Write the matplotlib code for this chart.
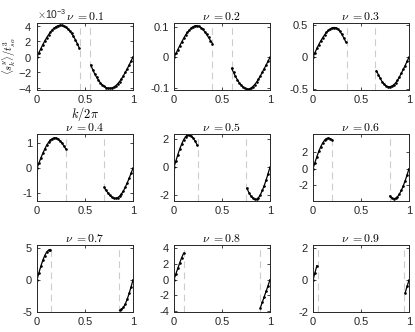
import matplotlib
matplotlib.use("Agg")
import matplotlib.pyplot as plt
import numpy as np
from matplotlib.ticker import ScalarFormatter

plt.rcParams["font.family"] = ["Liberation Sans", "DejaVu Sans"]
plt.rcParams["mathtext.fontset"] = "cm"
plt.rcParams["axes.unicode_minus"] = False

# nu values of the nine panels
nus = [0.1, 0.2, 0.3, 0.4, 0.5, 0.6, 0.7, 0.8, 0.9]
k_step = 0.02

# left branch: k = 0, 0.02, ...   right branch: ..., 0.98, 1.0
left_01 = np.array([0, 0.55, 1.08, 1.58, 2.05, 2.48, 2.87, 3.22, 3.52, 3.76, 3.94,
                    4.06, 4.1, 4.08, 4.0, 3.86, 3.65, 3.38, 3.05, 2.66, 2.22, 1.72, 1.15]) * 1e-3
right_01 = np.array([-1.05, -1.65, -2.18, -2.63, -3.02, -3.36, -3.63, -3.84, -3.98, -4.06,
                     -4.08, -4.04, -3.93, -3.75, -3.5, -3.2, -2.84, -2.44, -2.0, -1.54, -1.05, -0.54, 0]) * 1e-3
left_02 = [0, 0.013, 0.026, 0.039, 0.051, 0.063, 0.074, 0.083, 0.091, 0.098, 0.102,
           0.105, 0.105, 0.103, 0.099, 0.093, 0.085, 0.076, 0.066, 0.056, 0.046]
right_02 = [-0.036, -0.05, -0.063, -0.074, -0.084, -0.092, -0.099, -0.103, -0.105, -0.105,
            -0.102, -0.097, -0.09, -0.082, -0.072, -0.061, -0.049, -0.037, -0.025, -0.012, 0]
left_03 = [0, 0.07, 0.135, 0.195, 0.25, 0.3, 0.345, 0.385, 0.415, 0.44, 0.455,
           0.46, 0.455, 0.435, 0.4, 0.355, 0.3, 0.24]
right_03 = [-0.21, -0.27, -0.33, -0.38, -0.42, -0.445, -0.46, -0.46, -0.45, -0.43,
            -0.4, -0.36, -0.31, -0.25, -0.19, -0.13, -0.065, 0]
left_04 = [0, 0.2, 0.4, 0.58, 0.75, 0.9, 1.02, 1.11, 1.17, 1.2, 1.19, 1.15, 1.08, 0.99, 0.88, 0.76]
right_04 = [-0.76, -0.88, -0.99, -1.08, -1.15, -1.19, -1.2, -1.17, -1.11, -1.02, -0.9, -0.75,
            -0.58, -0.4, -0.2, 0]
left_05 = [0, 0.45, 0.9, 1.3, 1.65, 1.95, 2.17, 2.29, 2.3, 2.22, 2.07, 1.86, 1.6]
right_05 = [-1.5, -1.8, -2.04, -2.2, -2.29, -2.29, -2.17, -1.95, -1.65, -1.3, -0.9, -0.45, 0]
left_06 = [0, 0.75, 1.45, 2.1, 2.65, 3.1, 3.45, 3.65, 3.72, 3.65, 3.5]
right_06 = [-3.3, -3.55, -3.62, -3.58, -3.4, -3.05, -2.62, -2.08, -1.45, -0.75, 0]
left_07 = [0, 1.1, 2.1, 3.0, 3.75, 4.3, 4.6, 4.7]
right_07 = [-4.75, -4.6, -4.3, -3.75, -3.0, -2.1, -1.1, 0]
left_08 = [0, 0.75, 1.45, 2.15, 2.8, 3.35]
right_08 = [-3.55, -2.85, -2.15, -1.45, -0.75, 0]
left_09 = [0, 0.45, 0.9]
right_09 = [-0.8, -0.4, 0]

lefts = [left_01, left_02, left_03, left_04, left_05, left_06, left_07, left_08, left_09]
rights = [right_01, right_02, right_03, right_04, right_05, right_06, right_07, right_08, right_09]

ylims = [(-4.3e-3, 4.4e-3), (-0.108, 0.114), (-0.51, 0.53), (-1.3, 1.35), (-2.4, 2.36),
         (-3.9, 4.2), (-5.0, 5.4), (-4.1, 4.4), (-2.0, 2.2)]
yticks = [[-4e-3, -2e-3, 0, 2e-3, 4e-3], [-0.1, 0, 0.1], [-0.5, 0, 0.5], [-1, 0, 1],
          [-2, 0, 2], [-2, 0, 2], [-5, 0, 5], [-4, -2, 0, 2, 4], [-2, 0, 2]]

fig = plt.figure(figsize=(4.15, 3.32), dpi=100)

col_left = [37 / 415, 174 / 415, 313 / 415]
row_bottom = [1 - 90 / 332, 1 - 201 / 332, 1 - 312 / 332]
w = 96 / 415
h = 67 / 332
edge = "#262626"

for i, nu in enumerate(nus):
    r, c = divmod(i, 3)
    ax = fig.add_axes([col_left[c], row_bottom[r], w, h])
    yl = np.asarray(lefts[i], dtype=float)
    yr = np.asarray(rights[i], dtype=float)
    kl = np.arange(len(yl)) * k_step
    kr = 1 - np.arange(len(yr))[::-1] * k_step
    for xv in [(1 - nu) / 2, (1 + nu) / 2]:
        ax.axvline(xv, color="#cccccc", ls=(0, (6, 4)), lw=0.8)
    ax.plot(kl, yl, "-", color="k", lw=0.9, marker=".", ms=1.8)
    ax.plot(kr, yr, "-", color="k", lw=0.9, marker=".", ms=1.8)
    ax.set_xlim(0, 1)
    ax.set_ylim(*ylims[i])
    ax.set_xticks([0, 0.5, 1])
    ax.set_xticklabels(["0", "0.5", "1"])
    ax.set_yticks(yticks[i])
    ax.tick_params(direction="in", length=2.5, width=0.6, top=True, right=True,
                   labelsize=8, colors=edge, pad=3.5)
    for s in ax.spines.values():
        s.set_color(edge)
        s.set_linewidth(0.7)
    ax.text(0.5, 1.0, r"$\nu\ =%.1f$" % nu, transform=ax.transAxes,
            ha="center", va="bottom", fontsize=8.5)
    if i == 0:
        fmt = ScalarFormatter(useMathText=True)
        fmt.set_powerlimits((-2, 2))
        ax.yaxis.set_major_formatter(fmt)
        ax.yaxis.get_offset_text().set_fontsize(7.5)
        ax.set_xlabel(r"$k/2\pi$", fontsize=9, labelpad=0)
        ax.set_ylabel(r"$\langle s_k^y\rangle/t_{so}^3$", fontsize=7.5)
        ax.yaxis.set_label_coords(-0.2, 0.5)
    else:
        ax.yaxis.set_major_formatter(plt.FuncFormatter(lambda v, p: "%g" % v))

fig.savefig("out.png", dpi=100)
